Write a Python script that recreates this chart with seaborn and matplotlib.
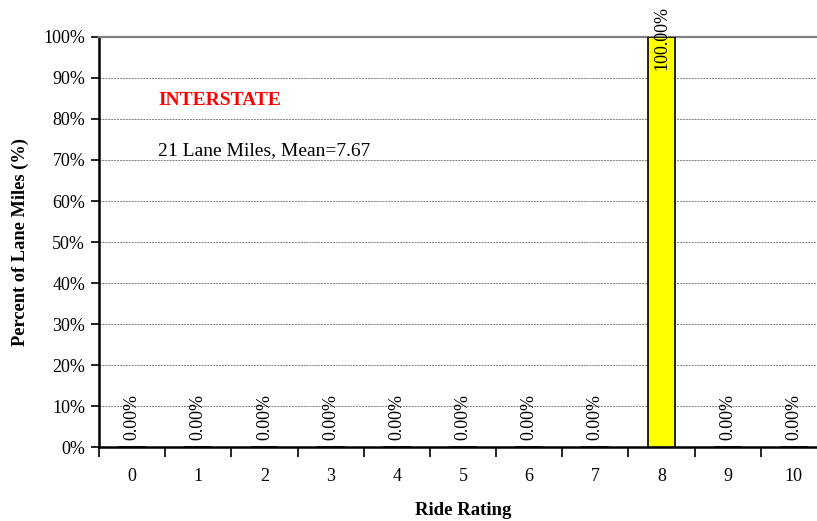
import matplotlib
matplotlib.use("Agg")
import matplotlib.pyplot as plt
import seaborn as sns
import pandas as pd
from matplotlib.ticker import PercentFormatter, FixedLocator, NullFormatter

# ==========================================
# Data
# ==========================================

ratings = ["0", "1", "2", "3", "4", "5", "6", "7", "8", "9", "10"]
percent_lane_miles = [0, 0, 0, 0, 0, 0, 0, 0, 100, 0, 0]

section_name = "INTERSTATE"
summary_text = "21 Lane Miles, Mean=7.67"

df = pd.DataFrame({"rating": ratings, "pct": percent_lane_miles})

# ==========================================
# Style
# ==========================================

sns.set_style("white")
plt.rcParams["font.family"] = ["Liberation Serif", "DejaVu Serif"]
plt.rcParams["xtick.bottom"] = True
plt.rcParams["ytick.left"] = True

fig = plt.figure(figsize=(8.17, 5.21), dpi=100)
ax = fig.add_axes([0.1212, 0.142, 0.891, 0.787])

sns.barplot(
    data=df,
    x="rating",
    y="pct",
    color="#FFFF00",
    edgecolor="black",
    linewidth=1.2,
    width=0.42,
    saturation=1,
    ax=ax,
    zorder=3
)

ax.set_xlim(-0.5, len(ratings) - 0.5)
ax.set_ylim(0, 100)

# gridlines
ax.set_yticks(range(0, 101, 10))
ax.yaxis.set_major_formatter(PercentFormatter(decimals=0))
ax.yaxis.grid(True, linestyle=(0, (2, 1)), color="#808080", linewidth=0.7)
ax.set_axisbelow(True)

# x ticks between categories, labels at centers
ax.xaxis.set_major_locator(FixedLocator([i - 0.5 for i in range(len(ratings) + 1)]))
ax.xaxis.set_major_formatter(NullFormatter())
ax.xaxis.set_minor_locator(FixedLocator(range(len(ratings))))
ax.set_xticklabels(ratings, minor=True)
ax.tick_params(axis="x", which="major", bottom=True, direction="out", length=7, width=1.2, color="black")
ax.tick_params(axis="x", which="minor", bottom=True, length=0, pad=15, labelsize=13, labelcolor="black")
ax.tick_params(axis="y", left=True, direction="out", length=6, width=1.2, color="black",
               labelsize=13, labelcolor="black", pad=4)

for side in ["left", "bottom"]:
    ax.spines[side].set_color("black")
    ax.spines[side].set_linewidth(1.8)
ax.spines["right"].set_visible(False)
ax.spines["top"].set_color("#808080")
ax.spines["top"].set_linewidth(1.6)

ax.set_xlabel("Ride Rating", fontsize=13.5, fontweight="bold", labelpad=12, color="black")
ax.set_ylabel("Percent of Lane Miles (%)", fontsize=13.2, fontweight="bold", labelpad=10, color="black")

# bar value labels
for i, v in enumerate(percent_lane_miles):
    y = v - 8 if v > 90 else v + 1.7
    ax.text(
        i, y, f"{v:.2f}%",
        rotation=90, ha="center", va="bottom", color="black",
        fontsize=13, clip_on=False, zorder=4
    )

ax.text(0.081, 0.846, section_name, transform=ax.transAxes,
        color="red", fontweight="bold", fontsize=14, va="center", ha="left")
ax.text(0.081, 0.724, summary_text, transform=ax.transAxes, color="black",
        fontsize=14, va="center", ha="left")

plt.savefig("out.png", dpi=100)
